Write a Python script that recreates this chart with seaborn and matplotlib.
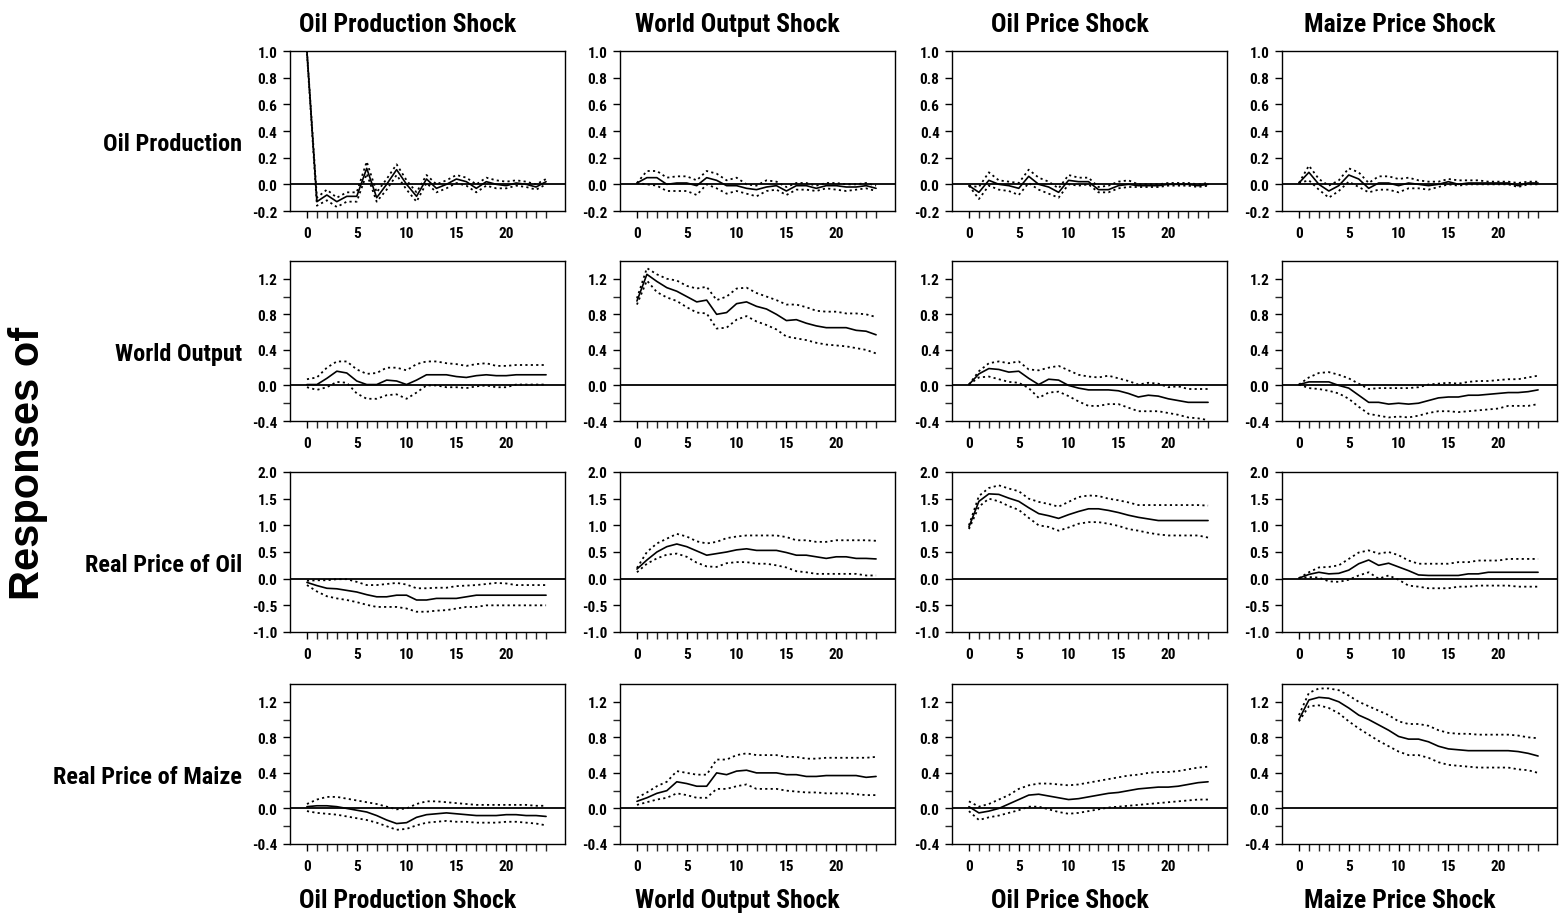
import matplotlib
matplotlib.use("Agg")
import matplotlib.pyplot as plt
from matplotlib.ticker import FixedLocator, FormatStrFormatter
import seaborn as sns
import pandas as pd

HORIZON = list(range(25))

SHOCKS = ["Oil Production Shock", "World Output Shock", "Oil Price Shock", "Maize Price Shock"]
RESPONSES = ["Oil Production", "World Output", "Real Price of Oil", "Real Price of Maize"]

# --- Oil production responses ---
OP_OP_MID = [1.0, -0.13, -0.08, -0.13, -0.09, -0.09, 0.12, -0.10, 0.0, 0.11, 0.0, -0.09, 0.04,
             -0.03, 0.0, 0.04, 0.02, -0.03, 0.02, 0.0, -0.01, 0.01, 0.0, -0.02, 0.02]
OP_OP_HI = [1.0, -0.10, -0.04, -0.10, -0.06, -0.06, 0.17, -0.06, 0.04, 0.15, 0.03, -0.06, 0.07,
            0.0, 0.03, 0.07, 0.05, 0.0, 0.05, 0.03, 0.02, 0.03, 0.02, 0.0, 0.04]
OP_OP_LO = [0.98, -0.16, -0.12, -0.17, -0.13, -0.13, 0.08, -0.13, -0.04, 0.07, -0.04, -0.13, 0.01,
            -0.06, -0.03, 0.01, -0.01, -0.06, -0.01, -0.03, -0.03, -0.01, -0.02, -0.04, 0.0]

OP_WO_MID = [0.01, 0.05, 0.05, 0.0, 0.01, 0.01, -0.01, 0.05, 0.03, -0.01, -0.01, -0.03, -0.04,
             -0.02, -0.01, -0.05, -0.01, -0.01, -0.03, -0.01, -0.01, -0.02, -0.02, -0.01, -0.03]
OP_WO_HI = [0.01, 0.10, 0.10, 0.05, 0.06, 0.06, 0.03, 0.10, 0.08, 0.03, 0.05, 0.0, -0.01,
            0.03, 0.02, -0.02, 0.01, 0.01, -0.01, 0.01, 0.01, 0.0, 0.0, 0.01, -0.01]
OP_WO_LO = [0.01, 0.0, -0.01, -0.05, -0.05, -0.05, -0.08, 0.0, -0.03, -0.07, -0.05, -0.07, -0.09,
            -0.05, -0.04, -0.08, -0.04, -0.04, -0.05, -0.03, -0.04, -0.05, -0.04, -0.03, -0.05]

OP_PO_MID = [-0.01, -0.06, 0.03, 0.0, -0.01, -0.03, 0.06, 0.0, -0.02, -0.06, 0.03, 0.02, 0.02,
             -0.04, -0.04, -0.01, 0.0, -0.01, -0.01, -0.01, 0.0, 0.0, 0.0, -0.01, 0.0]
OP_PO_HI = [-0.01, -0.02, 0.09, 0.03, 0.02, 0.01, 0.11, 0.05, 0.02, -0.03, 0.07, 0.05, 0.05,
            -0.02, -0.01, 0.02, 0.03, 0.0, 0.0, 0.0, 0.01, 0.01, 0.01, 0.0, 0.01]
OP_PO_LO = [-0.01, -0.11, -0.01, -0.04, -0.05, -0.08, 0.01, -0.04, -0.07, -0.10, 0.0, -0.01, 0.0,
            -0.06, -0.06, -0.03, -0.02, -0.02, -0.02, -0.02, -0.01, -0.01, -0.01, -0.02, -0.01]

OP_PM_MID = [0.01, 0.09, 0.0, -0.05, -0.01, 0.07, 0.04, -0.03, 0.01, 0.01, -0.01, 0.01, 0.0,
             -0.01, 0.0, 0.02, 0.0, 0.01, 0.01, 0.01, 0.01, 0.01, -0.01, 0.01, 0.01]
OP_PM_HI = [0.01, 0.14, 0.04, -0.01, 0.03, 0.12, 0.09, 0.01, 0.06, 0.06, 0.04, 0.05, 0.03,
            0.02, 0.02, 0.04, 0.03, 0.03, 0.03, 0.02, 0.02, 0.02, 0.01, 0.02, 0.02]
OP_PM_LO = [0.01, 0.03, -0.04, -0.10, -0.05, 0.02, -0.02, -0.06, -0.04, -0.04, -0.06, -0.03, -0.03,
            -0.04, -0.02, 0.0, -0.01, 0.0, 0.0, 0.0, 0.0, 0.0, -0.02, 0.0, 0.0]

# --- World output responses ---
WO_OP_MID = [0.01, 0.01, 0.08, 0.16, 0.14, 0.05, 0.01, 0.01, 0.06, 0.05, 0.01, 0.06, 0.12,
             0.12, 0.12, 0.10, 0.09, 0.11, 0.12, 0.11, 0.11, 0.12, 0.12, 0.12, 0.12]
WO_OP_HI = [0.07, 0.09, 0.20, 0.27, 0.27, 0.18, 0.13, 0.14, 0.20, 0.20, 0.17, 0.24, 0.27,
            0.27, 0.25, 0.24, 0.22, 0.24, 0.25, 0.22, 0.22, 0.23, 0.23, 0.23, 0.23]
WO_OP_LO = [-0.02, -0.05, -0.02, 0.04, 0.03, -0.09, -0.15, -0.15, -0.11, -0.10, -0.15, -0.08, 0.0,
            0.0, -0.02, -0.02, -0.03, -0.01, 0.0, -0.02, -0.02, 0.01, 0.01, 0.01, 0.01]

WO_WO_MID = [0.95, 1.25, 1.17, 1.10, 1.06, 1.0, 0.94, 0.96, 0.80, 0.82, 0.92, 0.94, 0.89,
             0.86, 0.80, 0.73, 0.74, 0.70, 0.67, 0.65, 0.65, 0.65, 0.62, 0.61, 0.57]
WO_WO_HI = [0.98, 1.32, 1.25, 1.20, 1.18, 1.12, 1.09, 1.11, 0.96, 1.0, 1.09, 1.10, 1.04,
            1.0, 0.96, 0.91, 0.91, 0.88, 0.84, 0.83, 0.83, 0.81, 0.81, 0.80, 0.77]
WO_WO_LO = [0.91, 1.18, 1.05, 0.99, 0.95, 0.88, 0.82, 0.81, 0.64, 0.65, 0.74, 0.78, 0.72,
            0.68, 0.63, 0.55, 0.53, 0.51, 0.48, 0.46, 0.45, 0.44, 0.42, 0.40, 0.36]

WO_PO_MID = [0.01, 0.13, 0.19, 0.18, 0.15, 0.16, 0.08, 0.01, 0.07, 0.06, 0.0, -0.03, -0.05,
             -0.05, -0.05, -0.06, -0.09, -0.13, -0.11, -0.12, -0.15, -0.17, -0.19, -0.19, -0.19]
WO_PO_HI = [0.01, 0.16, 0.25, 0.27, 0.25, 0.27, 0.18, 0.17, 0.20, 0.22, 0.17, 0.12, 0.10,
            0.09, 0.11, 0.08, 0.05, 0.01, 0.03, 0.02, -0.02, -0.01, -0.04, -0.04, -0.04]
WO_PO_LO = [0.01, 0.09, 0.10, 0.07, 0.04, 0.03, -0.03, -0.14, -0.08, -0.07, -0.12, -0.18, -0.23,
            -0.23, -0.21, -0.21, -0.25, -0.29, -0.29, -0.29, -0.31, -0.33, -0.36, -0.37, -0.39]

WO_PM_MID = [0.01, 0.04, 0.04, 0.04, 0.0, -0.03, -0.11, -0.19, -0.19, -0.21, -0.20, -0.21, -0.20,
             -0.17, -0.14, -0.13, -0.13, -0.11, -0.11, -0.10, -0.09, -0.08, -0.08, -0.07, -0.05]
WO_PM_HI = [0.01, 0.09, 0.14, 0.15, 0.12, 0.08, 0.02, -0.04, -0.03, -0.03, -0.03, -0.03, -0.02,
            0.01, 0.02, 0.03, 0.02, 0.04, 0.05, 0.05, 0.06, 0.07, 0.07, 0.09, 0.11]
WO_PM_LO = [0.01, -0.03, -0.04, -0.06, -0.09, -0.15, -0.24, -0.32, -0.34, -0.36, -0.35, -0.36, -0.34,
            -0.31, -0.29, -0.29, -0.30, -0.29, -0.28, -0.27, -0.26, -0.23, -0.23, -0.23, -0.21]

# --- Real price of oil responses ---
PO_OP_MID = [-0.07, -0.13, -0.18, -0.19, -0.22, -0.25, -0.30, -0.34, -0.34, -0.31, -0.31, -0.40, -0.40,
             -0.37, -0.37, -0.37, -0.34, -0.31, -0.31, -0.31, -0.31, -0.31, -0.31, -0.31, -0.31]
PO_OP_HI = [-0.04, -0.03, -0.03, -0.01, -0.01, -0.06, -0.12, -0.12, -0.10, -0.08, -0.11, -0.18, -0.18,
            -0.17, -0.17, -0.14, -0.13, -0.12, -0.10, -0.08, -0.09, -0.12, -0.12, -0.12, -0.12]
PO_OP_LO = [-0.12, -0.24, -0.33, -0.37, -0.40, -0.44, -0.49, -0.53, -0.53, -0.53, -0.56, -0.62, -0.62,
            -0.60, -0.59, -0.56, -0.53, -0.53, -0.50, -0.50, -0.50, -0.50, -0.50, -0.50, -0.50]

PO_WO_MID = [0.18, 0.35, 0.50, 0.60, 0.65, 0.60, 0.52, 0.44, 0.47, 0.50, 0.54, 0.56, 0.53,
             0.53, 0.53, 0.49, 0.44, 0.44, 0.41, 0.38, 0.41, 0.41, 0.38, 0.38, 0.37]
PO_WO_HI = [0.20, 0.50, 0.66, 0.75, 0.84, 0.79, 0.70, 0.66, 0.69, 0.76, 0.79, 0.81, 0.81,
            0.81, 0.81, 0.78, 0.72, 0.72, 0.69, 0.69, 0.72, 0.72, 0.72, 0.72, 0.71]
PO_WO_LO = [0.12, 0.28, 0.38, 0.45, 0.47, 0.41, 0.30, 0.23, 0.22, 0.29, 0.31, 0.31, 0.28,
            0.28, 0.25, 0.21, 0.14, 0.12, 0.09, 0.09, 0.09, 0.09, 0.09, 0.06, 0.06]

PO_PO_MID = [0.97, 1.45, 1.59, 1.58, 1.51, 1.45, 1.33, 1.22, 1.18, 1.13, 1.20, 1.26, 1.31,
             1.31, 1.28, 1.24, 1.19, 1.15, 1.12, 1.09, 1.09, 1.09, 1.09, 1.09, 1.09]
PO_PO_HI = [1.0, 1.55, 1.70, 1.75, 1.69, 1.64, 1.50, 1.44, 1.40, 1.35, 1.44, 1.53, 1.56,
            1.55, 1.50, 1.47, 1.43, 1.38, 1.38, 1.38, 1.38, 1.38, 1.38, 1.38, 1.37]
PO_PO_LO = [0.93, 1.35, 1.50, 1.45, 1.36, 1.29, 1.14, 1.00, 0.97, 0.90, 0.96, 1.03, 1.06,
            1.06, 1.03, 0.99, 0.93, 0.90, 0.86, 0.83, 0.81, 0.81, 0.81, 0.81, 0.77]

PO_PM_MID = [0.01, 0.08, 0.12, 0.09, 0.10, 0.16, 0.28, 0.35, 0.25, 0.29, 0.22, 0.15, 0.07,
             0.06, 0.06, 0.06, 0.06, 0.09, 0.09, 0.12, 0.12, 0.12, 0.12, 0.12, 0.12]
PO_PM_HI = [0.01, 0.12, 0.21, 0.22, 0.25, 0.37, 0.49, 0.53, 0.47, 0.50, 0.44, 0.34, 0.28,
            0.28, 0.28, 0.28, 0.31, 0.31, 0.34, 0.34, 0.34, 0.37, 0.37, 0.37, 0.37]
PO_PM_LO = [0.01, 0.03, 0.02, -0.05, -0.06, -0.02, 0.06, 0.12, 0.0, 0.06, -0.02, -0.13, -0.15,
            -0.18, -0.18, -0.18, -0.15, -0.15, -0.13, -0.13, -0.13, -0.13, -0.15, -0.15, -0.15]

# --- Real price of maize responses ---
PM_OP_MID = [0.02, 0.03, 0.03, 0.02, 0.0, -0.02, -0.04, -0.08, -0.13, -0.17, -0.16, -0.10, -0.07,
             -0.06, -0.05, -0.06, -0.07, -0.08, -0.08, -0.08, -0.07, -0.07, -0.08, -0.08, -0.09]
PM_OP_HI = [0.05, 0.10, 0.13, 0.13, 0.11, 0.09, 0.07, 0.05, 0.02, -0.01, 0.0, 0.05, 0.08,
            0.08, 0.07, 0.06, 0.05, 0.04, 0.04, 0.04, 0.04, 0.04, 0.04, 0.03, 0.03]
PM_OP_LO = [-0.03, -0.05, -0.06, -0.07, -0.09, -0.11, -0.13, -0.16, -0.20, -0.24, -0.23, -0.19, -0.16,
            -0.15, -0.14, -0.15, -0.15, -0.16, -0.16, -0.16, -0.15, -0.15, -0.16, -0.17, -0.19]

PM_WO_MID = [0.08, 0.12, 0.17, 0.20, 0.30, 0.28, 0.25, 0.25, 0.40, 0.38, 0.42, 0.43, 0.40,
             0.40, 0.40, 0.38, 0.38, 0.36, 0.36, 0.37, 0.37, 0.37, 0.37, 0.35, 0.36]
PM_WO_HI = [0.12, 0.18, 0.25, 0.30, 0.42, 0.40, 0.38, 0.38, 0.55, 0.55, 0.60, 0.62, 0.60,
            0.60, 0.60, 0.58, 0.58, 0.56, 0.56, 0.57, 0.57, 0.57, 0.57, 0.57, 0.58]
PM_WO_LO = [0.04, 0.07, 0.10, 0.12, 0.17, 0.15, 0.12, 0.12, 0.22, 0.22, 0.25, 0.27, 0.22,
            0.22, 0.22, 0.20, 0.19, 0.18, 0.18, 0.17, 0.17, 0.17, 0.16, 0.15, 0.15]

PM_PO_MID = [0.02, -0.05, -0.03, 0.0, 0.05, 0.10, 0.15, 0.16, 0.14, 0.12, 0.10, 0.11, 0.13,
             0.15, 0.17, 0.18, 0.20, 0.22, 0.23, 0.24, 0.24, 0.25, 0.27, 0.29, 0.30]
PM_PO_HI = [0.08, 0.02, 0.05, 0.10, 0.15, 0.22, 0.26, 0.28, 0.28, 0.27, 0.26, 0.27, 0.29,
            0.31, 0.33, 0.35, 0.37, 0.38, 0.40, 0.41, 0.41, 0.42, 0.44, 0.46, 0.47]
PM_PO_LO = [-0.03, -0.13, -0.10, -0.08, -0.05, -0.02, 0.02, 0.02, -0.01, -0.04, -0.06, -0.05, -0.03,
            -0.01, 0.01, 0.02, 0.03, 0.04, 0.05, 0.06, 0.07, 0.08, 0.09, 0.10, 0.10]

PM_PM_MID = [1.0, 1.22, 1.25, 1.24, 1.20, 1.13, 1.05, 1.00, 0.94, 0.88, 0.81, 0.78, 0.78,
             0.75, 0.70, 0.67, 0.66, 0.65, 0.65, 0.65, 0.65, 0.65, 0.64, 0.62, 0.59]
PM_PM_HI = [1.05, 1.30, 1.35, 1.35, 1.33, 1.27, 1.20, 1.15, 1.10, 1.05, 0.98, 0.95, 0.95,
            0.93, 0.88, 0.85, 0.84, 0.84, 0.83, 0.83, 0.83, 0.83, 0.82, 0.80, 0.79]
PM_PM_LO = [0.98, 1.15, 1.16, 1.13, 1.07, 0.98, 0.90, 0.83, 0.76, 0.70, 0.64, 0.60, 0.60,
            0.57, 0.52, 0.49, 0.48, 0.47, 0.46, 0.46, 0.46, 0.46, 0.44, 0.43, 0.40]

PANELS = [
    [(OP_OP_MID, OP_OP_LO, OP_OP_HI), (OP_WO_MID, OP_WO_LO, OP_WO_HI),
     (OP_PO_MID, OP_PO_LO, OP_PO_HI), (OP_PM_MID, OP_PM_LO, OP_PM_HI)],
    [(WO_OP_MID, WO_OP_LO, WO_OP_HI), (WO_WO_MID, WO_WO_LO, WO_WO_HI),
     (WO_PO_MID, WO_PO_LO, WO_PO_HI), (WO_PM_MID, WO_PM_LO, WO_PM_HI)],
    [(PO_OP_MID, PO_OP_LO, PO_OP_HI), (PO_WO_MID, PO_WO_LO, PO_WO_HI),
     (PO_PO_MID, PO_PO_LO, PO_PO_HI), (PO_PM_MID, PO_PM_LO, PO_PM_HI)],
    [(PM_OP_MID, PM_OP_LO, PM_OP_HI), (PM_WO_MID, PM_WO_LO, PM_WO_HI),
     (PM_PO_MID, PM_PO_LO, PM_PO_HI), (PM_PM_MID, PM_PM_LO, PM_PM_HI)],
]

# y-axis setup per response row: limits, major ticks, minor ticks
ROW_YLIM = [(-0.2, 1.0), (-0.4, 1.4), (-1.0, 2.0), (-0.4, 1.4)]
ROW_MAJOR = [[-0.2, 0.0, 0.2, 0.4, 0.6, 0.8, 1.0],
             [-0.4, 0.0, 0.4, 0.8, 1.2],
             [-1.0, -0.5, 0.0, 0.5, 1.0, 1.5, 2.0],
             [-0.4, 0.0, 0.4, 0.8, 1.2]]
ROW_MINOR = [[], [-0.2, 0.2, 0.6, 1.0], [], [-0.2, 0.2, 0.6, 1.0]]

sns.set_style("ticks")
NARROW = ["Liberation Sans Narrow", "Roboto Condensed", "Roboto", "DejaVu Sans"]
plt.rcParams["font.family"] = NARROW
plt.rcParams["axes.unicode_minus"] = False
plt.rcParams["text.color"] = "black"
plt.rcParams["axes.labelcolor"] = "black"

W, H = 1560, 920
fig = plt.figure(figsize=(15.6, 9.2), dpi=100)

col_left = [290, 620, 952, 1282]
row_bottom = [212, 422, 633, 845]
ax_w, ax_h = 275, 160

for r in range(4):
    for c in range(4):
        ax = fig.add_axes([col_left[c] / W, 1 - row_bottom[r] / H, ax_w / W, ax_h / H])
        mid, lo, hi = PANELS[r][c]
        df = pd.DataFrame({"h": HORIZON, "mid": mid, "lo": lo, "hi": hi})
        ax.axhline(0, color="black", lw=1.3, zorder=1)
        sns.lineplot(data=df, x="h", y="mid", ax=ax, color="black", lw=1.2)
        for col in ["lo", "hi"]:
            sns.lineplot(data=df, x="h", y=col, ax=ax, color="black", lw=1.3,
                         linestyle=(0, (1.2, 1.8)))
        ax.set_xlim(-1.7, 25.9)
        ax.set_ylim(*ROW_YLIM[r])
        ax.xaxis.set_major_locator(FixedLocator([0, 5, 10, 15, 20]))
        ax.xaxis.set_minor_locator(FixedLocator(HORIZON))
        ax.yaxis.set_major_locator(FixedLocator(ROW_MAJOR[r]))
        ax.yaxis.set_minor_locator(FixedLocator(ROW_MINOR[r]))
        ax.yaxis.set_major_formatter(FormatStrFormatter("%.1f"))
        ax.tick_params(which="major", direction="out", length=5, width=1,
                       labelsize=11, colors="black", pad=4)
        ax.tick_params(axis="x", which="major", pad=6)
        ax.tick_params(which="minor", direction="out", length=5, width=1)
        for lab in ax.get_xticklabels() + ax.get_yticklabels():
            lab.set_fontweight("bold")
        for s in ax.spines.values():
            s.set_visible(True)
            s.set_linewidth(1.0)
            s.set_color("black")
        ax.set_xlabel("")
        if c == 0:
            ax.set_ylabel(RESPONSES[r], rotation=0, ha="right", va="center",
                          fontsize=17.5, fontweight="bold")
            ax.yaxis.set_label_coords(-0.175, 0.42)
        else:
            ax.set_ylabel("")

for c in range(4):
    xc = (col_left[c] + ax_w / 2 - 20) / W
    fig.text(xc, 1 - 25 / H, SHOCKS[c], ha="center", va="center", fontsize=18.5, fontweight="bold")
    fig.text(xc, 1 - 901 / H, SHOCKS[c], ha="center", va="center", fontsize=18.5, fontweight="bold")

fig.text(28 / W, 1 - 463 / H, "Responses of", rotation=90, ha="center", va="center",
         fontsize=30, fontweight="bold", family=["Liberation Sans", "DejaVu Sans"])

fig.savefig("out.png", dpi=100)
